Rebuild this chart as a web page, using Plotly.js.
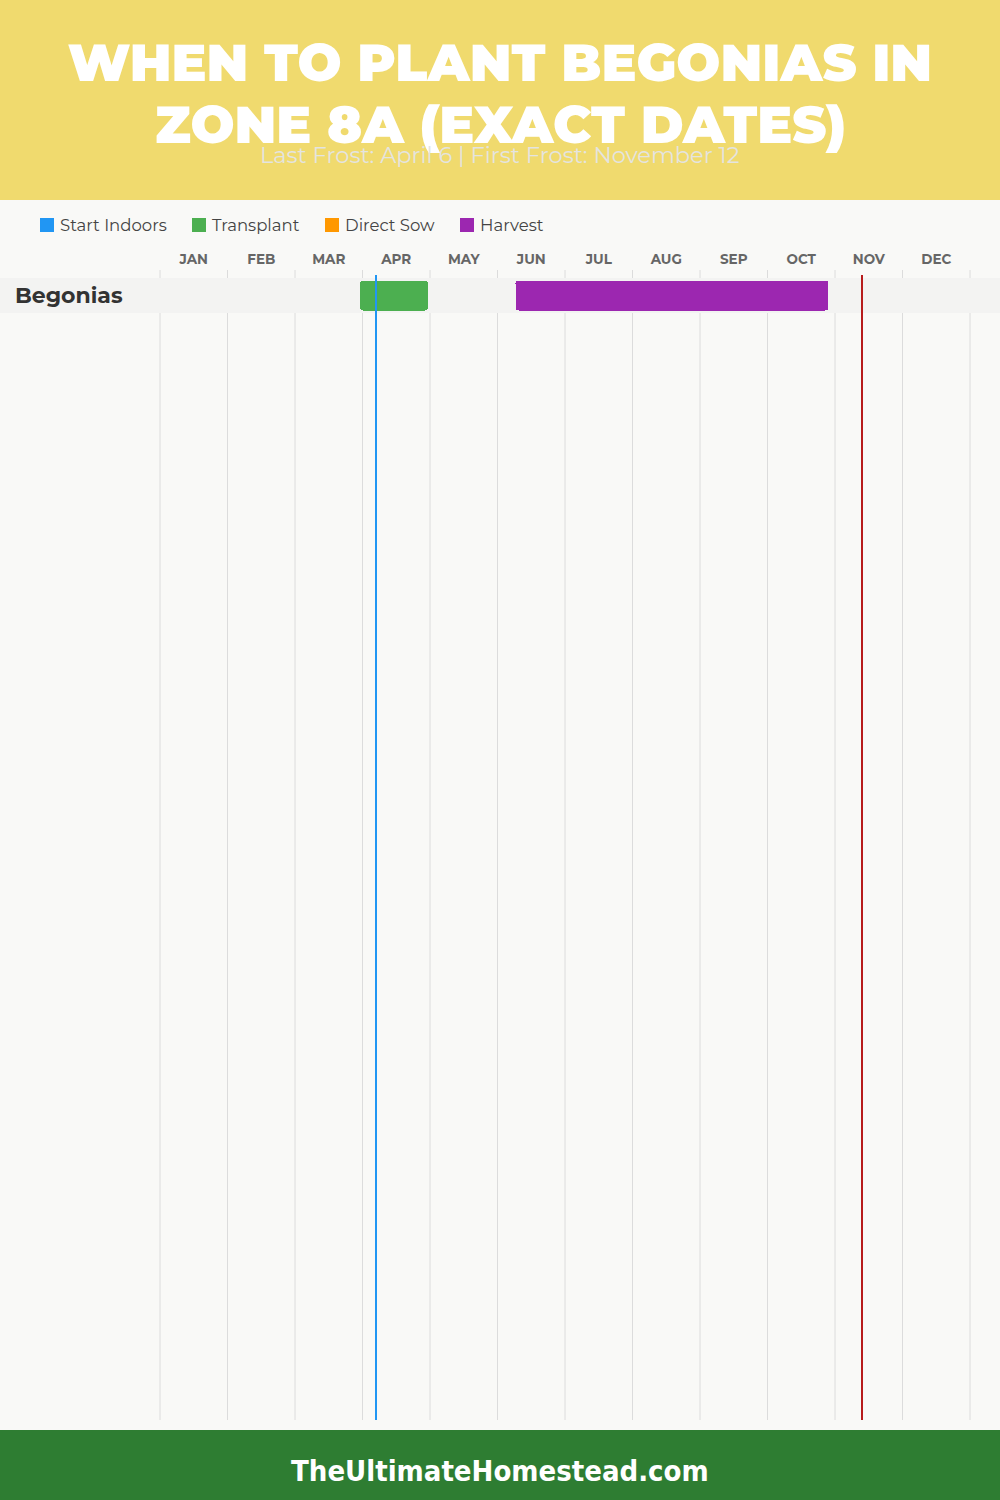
<!DOCTYPE html>
<html>
<head>
<meta charset="utf-8">
<script src="https://cdn.plot.ly/plotly-3.0.1.min.js"></script>
<style>html,body{margin:0;padding:0;background:#F9F9F7;}</style>
</head>
<body>
<div id="chart" style="width:1000px;height:1500px;"></div>
<script>
// ---- data ----
const months = ["JAN","FEB","MAR","APR","MAY","JUN","JUL","AUG","SEP","OCT","NOV","DEC"];
const crops = ["Begonias"];
const transplantStart = ["03-30"];
const transplantEnd = ["04-29"];
const harvestStart = ["06-08"];
const harvestEnd = ["10-28"];
const lastFrost = "04-06";
const firstFrost = "11-12";
const legendLabels = ["Start Indoors", "Transplant", "Direct Sow", "Harvest"];
const legendColors = ["#2196F3", "#4CAF50", "#FF9800", "#9C27B0"];
const titleLines = ["WHEN TO PLANT BEGONIAS IN", "ZONE 8A (EXACT DATES)"];
const subtitleText = "Last Frost: April 6 | First Frost: November 12";
const footerText = "TheUltimateHomestead.com";

// ---- helpers ----
const DIM = [31,29,31,30,31,30,31,31,30,31,30,31];
function mpos(md){ const p = md.split('-').map(Number); return (p[0]-1) + p[1]/DIM[p[0]-1]; }
const W = 1000, H = 1500, L = 160, R = 30, T = 275, B = 80;
const PW = W - L - R, PH = H - T - B;
function px2x(px){ return (px - L) / PW; }
function px2y(py){ return 1 - (py - T) / PH; }
const ROWPX = 35;
const yTop = -20.5 / ROWPX;
const yBottom = yTop + PH / ROWPX;

const FONT = "Montserrat, Inter, 'Open Sans', sans-serif";

function barTrace(name, color, starts, ends){
  return {
    type: 'bar', orientation: 'h', name: name,
    y: crops.map((c,i)=>i),
    base: starts.map(mpos),
    x: starts.map((s,i)=>mpos(ends[i]) - mpos(s)),
    width: crops.map(()=>30/ROWPX),
    marker: {color: color, cornerradius: 3, line: {width: 0}},
    hoverinfo: 'skip', showlegend: false
  };
}
const traces = [
  barTrace("Transplant", legendColors[1], transplantStart, transplantEnd),
  barTrace("Harvest", legendColors[3], harvestStart, harvestEnd)
];

const shapes = [];
// header & footer
shapes.push({type:'rect', xref:'paper', yref:'paper', x0:px2x(-5), x1:px2x(W+5), y0:px2y(200), y1:px2y(-5), fillcolor:'#F0DA6E', line:{width:0}, layer:'below'});
shapes.push({type:'rect', xref:'paper', yref:'paper', x0:px2x(-5), x1:px2x(W+5), y0:px2y(H+5), y1:px2y(1430), fillcolor:'#2E7D32', line:{width:0}, layer:'below'});
// month gridlines
for (let k = 0; k <= months.length; k++){
  shapes.push({type:'line', xref:'paper', yref:'paper', x0:k/months.length, x1:k/months.length, y0:px2y(1420), y1:px2y(270), line:{color:'#DCDCDC', width:1}, layer:'below'});
}
// row bands
crops.forEach((c,i)=>{
  shapes.push({type:'rect', xref:'paper', yref:'y', x0:px2x(0), x1:px2x(W), y0:i-0.5, y1:i+0.5, fillcolor:'#F3F3F2', line:{width:0}, layer:'below'});
});
// frost lines
shapes.push({type:'line', xref:'x', yref:'paper', x0:mpos(lastFrost), x1:mpos(lastFrost), y0:0, y1:1, line:{color:'#2196F3', width:2}});
shapes.push({type:'line', xref:'x', yref:'paper', x0:mpos(firstFrost), x1:mpos(firstFrost), y0:0, y1:1, line:{color:'#B71C1C', width:2}});
// legend squares
const legendX = [40, 192, 325, 460];
legendLabels.forEach((lab,i)=>{
  shapes.push({type:'rect', xref:'paper', yref:'paper', x0:px2x(legendX[i]), x1:px2x(legendX[i]+14), y0:px2y(232), y1:px2y(218), fillcolor:legendColors[i], line:{width:0}});
});

const annotations = [];
legendLabels.forEach((lab,i)=>{
  annotations.push({xref:'paper', yref:'paper', x:px2x(legendX[i]+18), y:px2y(225), xanchor:'left', yanchor:'middle', text:lab, showarrow:false, font:{family:FONT, size:16.5, color:'#444'}});
});
crops.forEach((c,i)=>{
  annotations.push({xref:'paper', yref:'y', x:px2x(13), y:i, xanchor:'left', yanchor:'middle', text:c, showarrow:false, font:{family:FONT, size:22, color:'#333', weight:700}});
});
annotations.push({xref:'paper', yref:'paper', x:px2x(500), y:px2y(125), xanchor:'center', yanchor:'middle', text:titleLines[1], showarrow:false, font:{family:FONT, size:52, color:'#FFFFFF', weight:900}});
annotations.push({xref:'paper', yref:'paper', x:px2x(500), y:px2y(155), xanchor:'center', yanchor:'middle', text:subtitleText, showarrow:false, font:{family:FONT, size:22.5, color:'#E4E4E0'}});
annotations.push({xref:'paper', yref:'paper', x:px2x(500), y:px2y(1471), xanchor:'center', yanchor:'middle', text:footerText, showarrow:false, font:{family:"'DejaVu Sans Condensed', 'DejaVu Sans', sans-serif", size:29, color:'#FFFFFF', weight:700}});

const layout = {
  width: W, height: H,
  margin: {l:L, r:R, t:T, b:B, pad:0},
  paper_bgcolor: '#F9F9F7', plot_bgcolor: 'rgba(0,0,0,0)',
  showlegend: false,
  barmode: 'overlay',
  title: {text: titleLines[0], x:0.5, xref:'container', xanchor:'center', y:1-63/H, yref:'container', yanchor:'middle',
          font:{family:FONT, size:52, color:'#FFFFFF', weight:900}},
  xaxis: {range:[0, months.length], side:'top', tickmode:'array', tickvals:months.map((m,i)=>i+0.5), ticktext:months,
          showgrid:false, zeroline:false, showline:false, ticks:'', ticklabelstandoff:7,
          tickfont:{family:FONT, size:13.5, color:'#666', weight:700}, fixedrange:true},
  yaxis: {range:[yBottom, yTop], visible:false, showgrid:false, zeroline:false, fixedrange:true},
  shapes: shapes,
  annotations: annotations,
  bargap: 0
};
Plotly.newPlot('chart', traces, layout, {displayModeBar:false, staticPlot:true});
</script>
</body>
</html>
